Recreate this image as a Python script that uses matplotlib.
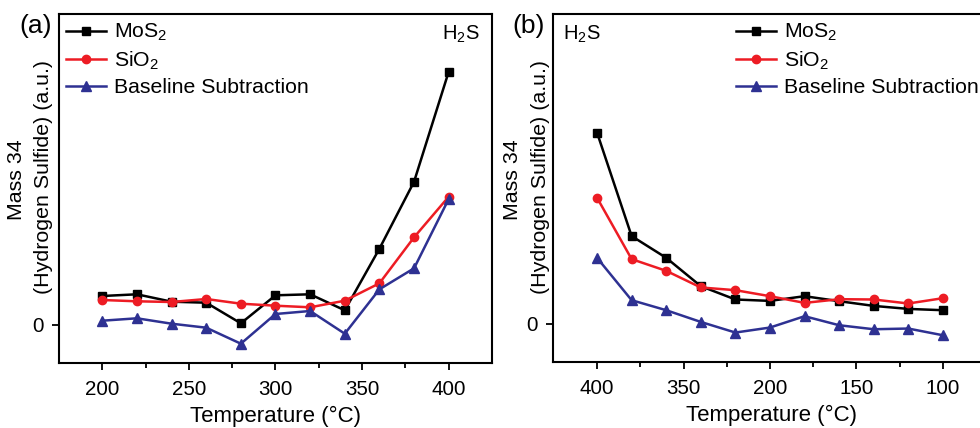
import matplotlib
matplotlib.use("Agg")
import matplotlib.pyplot as plt
from matplotlib.ticker import FixedLocator

plt.rcParams['font.family'] = ['Liberation Sans', 'DejaVu Sans']
plt.rcParams['mathtext.fontset'] = 'custom'
plt.rcParams['mathtext.rm'] = 'Liberation Sans'
plt.rcParams['mathtext.it'] = 'Liberation Sans:italic'

# ---- data, panel (a) ----
temp_a = [200, 220, 240, 260, 280, 300, 320, 340, 360, 380, 400]
mos2_a = [2.9, 3.07, 2.33, 2.23, 0.17, 2.97, 3.07, 1.47, 7.63, 14.33, 25.33]
sio2_a = [2.5, 2.37, 2.3, 2.6, 2.13, 1.93, 1.77, 2.43, 4.17, 8.77, 12.83]
base_a = [0.43, 0.67, 0.13, -0.27, -1.87, 1.1, 1.4, -0.87, 3.57, 5.67, 12.6]
ticks_a = [200, 250, 300, 350, 400]
ticklabels_a = ['200', '250', '300', '350', '400']

# ---- data, panel (b) ----
temp_b = [400, 370, 340, 310, 280, 250, 220, 190, 160, 130, 100]
mos2_b = [19.06, 8.73, 6.56, 3.73, 2.4, 2.26, 2.73, 2.23, 1.76, 1.46, 1.33]
sio2_b = [12.56, 6.43, 5.26, 3.6, 3.33, 2.73, 2.06, 2.43, 2.4, 2.0, 2.53]
base_b = [6.56, 2.33, 1.33, 0.16, -0.9, -0.4, 0.73, -0.17, -0.57, -0.5, -1.17]
ticks_b = [400, 325, 250, 175, 100]
ticklabels_b = ['400', '350', '200', '150', '100']

labels = ['MoS$_2$', 'SiO$_2$', 'Baseline Subtraction']
colors = ['black', '#ed1c24', '#2e3192']
markers = ['s', 'o', '^']
msizes = [5.5, 6, 6.5]

W, H = 980, 428
fig = plt.figure(figsize=(W / 100, H / 100), dpi=100)

def px_axes(l, t, r, b):
    return fig.add_axes([l / W, 1 - b / H, (r - l) / W, (b - t) / H])

axa = px_axes(59, 14, 492, 363)
axb = px_axes(553, 14, 989, 362)

def draw(ax, x, series):
    hs = []
    for y, c, m, ms, lab in zip(series, colors, markers, msizes, labels):
        h, = ax.plot(x, y, color=c, marker=m, markersize=ms, lw=1.8, label=lab)
        hs.append(h)
    return hs

hs_a = draw(axa, temp_a, [mos2_a, sio2_a, base_a])
hs_b = draw(axb, temp_b, [mos2_b, sio2_b, base_b])

axa.set_xlim(175, 425)
axa.set_ylim(-3.8, 31.1)
axb.set_xlim(438.2, 60)
axb.set_ylim(-3.84, 30.9)

for ax, ticks, tl in [(axa, ticks_a, ticklabels_a), (axb, ticks_b, ticklabels_b)]:
    ax.set_xticks(ticks)
    ax.set_xticklabels(tl)
    mids = [(ticks[i] + ticks[i + 1]) / 2 for i in range(len(ticks) - 1)]
    ax.xaxis.set_minor_locator(FixedLocator(mids))
    ax.set_yticks([0])
    ax.set_yticklabels(['0'])
    ax.tick_params(axis='both', which='major', direction='out', length=5, width=1.3,
                   labelsize=14.8)
    ax.tick_params(axis='x', which='major', pad=7)
    ax.tick_params(axis='y', which='major', pad=6)
    ax.tick_params(axis='x', which='minor', direction='out', length=3.5, width=1.3)
    for s in ax.spines.values():
        s.set_linewidth(1.5)
    ax.set_xlabel('Temperature (°C)', fontsize=16, labelpad=5)

fs_y = 15.4
fig.text(17 / W, 1 - 180 / H, 'Mass 34', rotation=90, ha='center', va='center', fontsize=fs_y)
fig.text(44 / W, 1 - 177 / H, '(Hydrogen Sulfide) (a.u.)', rotation=90, ha='center', va='center', fontsize=fs_y)
fig.text(513 / W, 1 - 180 / H, 'Mass 34', rotation=90, ha='center', va='center', fontsize=fs_y)
fig.text(540 / W, 1 - 177 / H, '(Hydrogen Sulfide) (a.u.)', rotation=90, ha='center', va='center', fontsize=fs_y)

# panel letters
fig.text(36 / W, 1 - 26 / H, '(a)', ha='center', va='center', fontsize=19)
fig.text(529 / W, 1 - 26 / H, '(b)', ha='center', va='center', fontsize=19)

# H2S labels
fig.text(461 / W, 1 - 34 / H, 'H$_2$S', ha='center', va='center', fontsize=14.5)
fig.text(582 / W, 1 - 34 / H, 'H$_2$S', ha='center', va='center', fontsize=14.5)

legkw = dict(frameon=False, fontsize=15.3, handlelength=1.9, handletextpad=0.35,
             labelspacing=0.3, borderpad=0, borderaxespad=0, loc='upper left')
axa.legend(handles=hs_a, bbox_to_anchor=(66 / W, 1 - 22 / H), bbox_transform=fig.transFigure, **legkw)
axb.legend(handles=hs_b, bbox_to_anchor=(736 / W, 1 - 22 / H), bbox_transform=fig.transFigure, **legkw)

fig.savefig('out.png', dpi=100)
